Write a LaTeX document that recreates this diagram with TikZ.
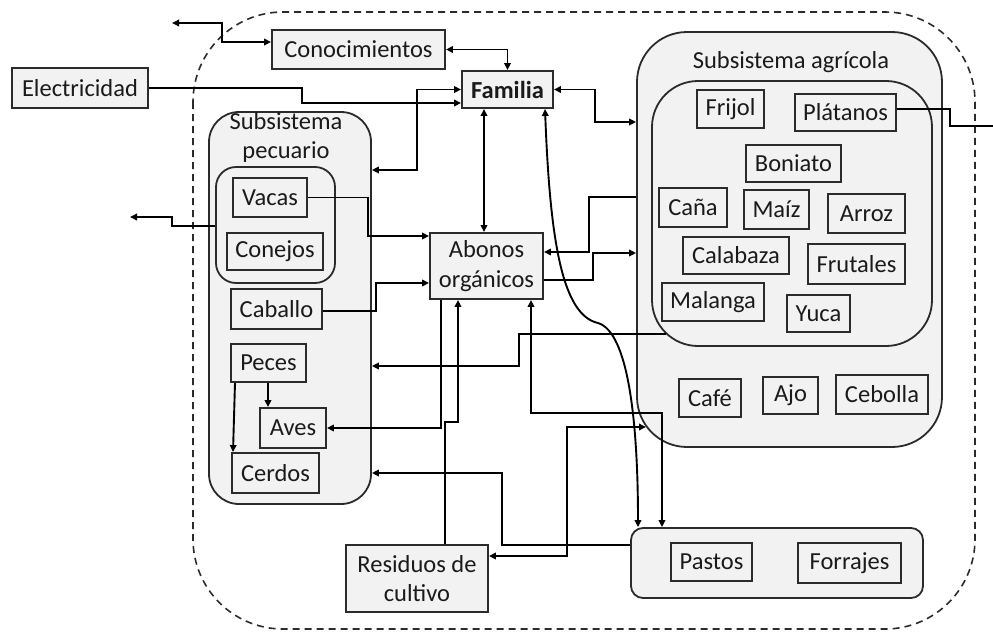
\documentclass[tikz,border=0pt]{standalone}
\usepackage{fontspec}
\setmainfont{Carlito}
\usetikzlibrary{arrows.meta}
\definecolor{boxfill}{HTML}{F2F2F2}
\definecolor{edge}{HTML}{2B2B2B}
\definecolor{txt}{HTML}{1A1A1A}
\begin{document}
\begin{tikzpicture}[x=1pt,y=-1pt,
  tbox/.style={draw=edge, fill=boxfill, line width=1.9pt, inner sep=0pt, align=center, text=txt, font=\fontsize{24.5}{29.5}\selectfont},
  cont/.style={draw=edge, fill=boxfill, line width=1.8pt, inner sep=0pt},
  lbl/.style={inner sep=0pt, align=center, text=txt, font=\fontsize{24.5}{29.5}\selectfont},
  conn/.style={line width=1.9pt, draw=black, >={Triangle[length=7pt,width=6.5pt]}},
  bound/.style={draw=edge, line width=1.6pt, dash pattern=on 7pt off 5pt, rounded corners=90pt}
]
\useasboundingbox (0,0) rectangle (993,632);

% outer dashed boundary
\draw[bound] (193,12) rectangle (975,629);

% containers
\node[cont, rounded corners=50pt, minimum width=305pt, minimum height=415pt] (agri) at (789.5,239.5) {};
\node[cont, rounded corners=46pt, minimum width=280pt, minimum height=265pt] (crops) at (792,213.5) {};
\node[lbl] (agrilbl) at (791,62) {Subsistema agrícola};
\node[cont, rounded corners=30pt, minimum width=162pt, minimum height=392pt] (pec) at (290,308) {};
\node[cont, rounded corners=20pt, minimum width=119pt, minimum height=116pt] (group) at (275.5,225) {};
\node[lbl] (peclbl) at (286,137.5) {Subsistema\\pecuario};
\node[cont, rounded corners=12pt, minimum width=292pt, minimum height=70pt] (pastbox) at (777,563) {};

% text boxes
\node[tbox, minimum width=173pt, minimum height=39pt] (know) at (358.5,49.5) {Conocimientos};
\node[tbox, minimum width=91pt, minimum height=37pt] (fam) at (507.5,89.5) {\textbf{Familia}};
\node[tbox, minimum width=136pt, minimum height=40pt] (elec) at (80,88) {Electricidad};
\node[tbox, minimum width=67pt, minimum height=38pt] (frijol) at (730.5,109) {Frijol};
\node[tbox, minimum width=101pt, minimum height=37pt] (platanos) at (845.5,112.5) {Plátanos};
\node[tbox, minimum width=95pt, minimum height=37pt] (boniato) at (793.5,163.5) {Boniato};
\node[tbox, minimum width=68pt, minimum height=39pt] (cana) at (693,207.5) {Caña};
\node[tbox, minimum width=65pt, minimum height=39pt] (maiz) at (776.5,209.5) {Maíz};
\node[tbox, minimum width=77pt, minimum height=39pt] (arroz) at (866.5,213.5) {Arroz};
\node[tbox, minimum width=106pt, minimum height=37pt] (calabaza) at (736,255.5) {Calabaza};
\node[tbox, minimum width=97pt, minimum height=40pt] (frutales) at (856.5,264) {Frutales};
\node[tbox, minimum width=102pt, minimum height=38pt] (malanga) at (713,302) {Malanga};
\node[tbox, minimum width=63pt, minimum height=37pt] (yuca) at (818.5,313.5) {Yuca};
\node[tbox, minimum width=62pt, minimum height=38pt] (cafe) at (710,398) {Café};
\node[tbox, minimum width=55pt, minimum height=37pt] (ajo) at (790.5,395.5) {Ajo};
\node[tbox, minimum width=92pt, minimum height=39pt] (cebolla) at (882,394.5) {Cebolla};
\node[tbox, minimum width=81pt, minimum height=38pt] (pastos) at (711.5,562) {Pastos};
\node[tbox, minimum width=103pt, minimum height=40pt] (forrajes) at (849.5,563) {Forrajes};
\node[tbox, minimum width=142pt, minimum height=67pt] (resid) at (417,578.5) {Residuos de\\cultivo};
\node[tbox, minimum width=113pt, minimum height=66pt] (abonos) at (486.5,266) {Abonos\\orgánicos};
\node[tbox, minimum width=74pt, minimum height=39pt] (vacas) at (270,197.5) {Vacas};
\node[tbox, minimum width=96pt, minimum height=37pt] (conejos) at (275,251.5) {Conejos};
\node[tbox, minimum width=91pt, minimum height=40pt] (caballo) at (276.5,309) {Caballo};
\node[tbox, minimum width=75pt, minimum height=38pt] (peces) at (268.5,363) {Peces};
\node[tbox, minimum width=66pt, minimum height=40pt] (aves) at (293,428) {Aves};
\node[tbox, minimum width=87pt, minimum height=40pt] (cerdos) at (275.5,473) {Cerdos};

% free ends
\coordinate (outK) at (172,23);
\coordinate (outV) at (130,217);
\coordinate (outP) at (993,126);
\coordinate (cropsEdge) at (666,334);
\coordinate (agriCurve) at (646,427);

% connectors
\draw[conn,<->] (outK) -- (222,23) -- (222,42) -- (know.west |- 0,42);
\draw[conn,<->] (know.east) -| (fam.north);
\draw[conn,->] (elec.east) -- (302,88) -- (302,103) -- (fam.west |- 0,103);
\draw[conn,<->] (fam.west) -- (417,89.5) -- (417,170) -- (pec.east |- 0,170);
\draw[conn,<->] (fam.south -| 484,0) -- (abonos.north -| 484,0);
\draw[conn,<->] (fam.south -| 545,0) .. controls (550,240) and (562,315) .. (598,323) .. controls (628,332) and (638,420) .. (pastbox.north -| 638,0);
\draw[conn,<->] (fam.east) -- (595,89.5) -- (595,122) -- (agri.west |- 0,122);
\draw[conn,->] (vacas.east) -- (368,197.5) -- (368,236) -- (abonos.west |- 0,236);
\draw[conn,->] (caballo.east |- 0,311) -- (376,311) -- (376,283) -- (abonos.west |- 0,283);
\draw[conn,->] (agri.west |- 0,197) -- (589,197) -- (589,252) -- (abonos.east |- 0,252);
\draw[conn,->] (abonos.east |- 0,280) -- (593,280) -- (593,253) -- (agri.west |- 0,253);
\draw[conn,->] (cropsEdge) -- (519,334) -- (519,366) -- (pec.east |- 0,366);
\draw[conn,->] (abonos.south -| 441,0) -- (441,428) -- (aves.east);
\draw[conn,->] (resid.north -| 445,0) -- (445,422) -- (458,422) -- (abonos.south -| 458,0);
\draw[conn,->] (pastbox.west |- 0,545) -- (502,545) -- (502,473) -- (pec.east |- 0,473);
\draw[conn,<->] (abonos.south -| 531,0) -- (531,413) -- (662,413) -- (pastbox.north -| 662,0);
\draw[conn,<->] (agriCurve) -- (567,427) -- (567,556) -- (resid.east |- 0,556);
\draw[conn,->] (peces.south -| 268,0) -- (aves.north -| 268,0);
\draw[conn,->] (peces.south -| 235,0) -- (cerdos.north -| 233,0);
\draw[conn,->] (group.west |- 0,226) -- (172,226) -- (172,217) -- (outV);
\draw[conn] (platanos.east |- 0,109) -- (950,109) -- (950,126) -- (outP);
\end{tikzpicture}
\end{document}
